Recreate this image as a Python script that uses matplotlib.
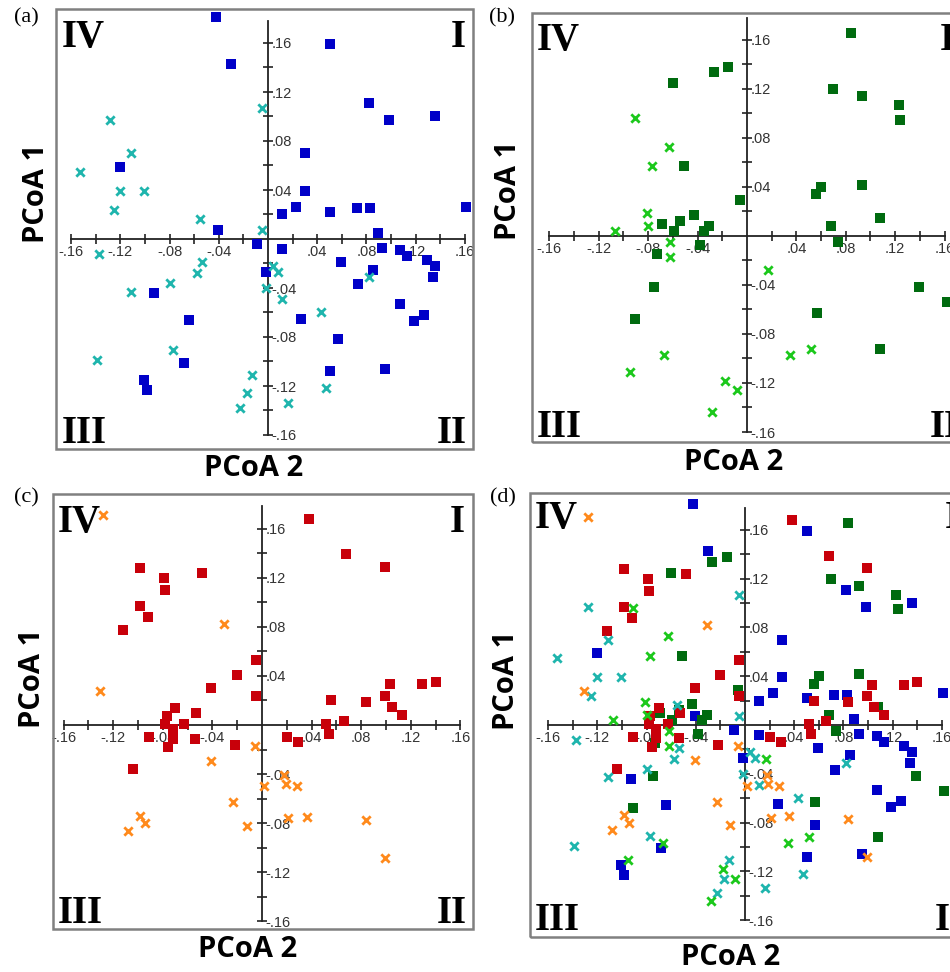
import numpy as np
import matplotlib.pyplot as plt
from matplotlib.patches import Rectangle

W, H = 950, 972

# ---- data (PCoA 2 = x, PCoA 1 = y) ----
# panel (a)
a_sq_x = [-0.042, -0.030, 0.050, 0.082, 0.098, 0.136, 0.030, 0.030, 0.023, 0.011, 0.050, 0.072,
          0.083, 0.161, 0.089, -0.120, -0.041, -0.009, 0.011, 0.093, 0.107, 0.113, 0.059, 0.129,
          0.136, 0.134, 0.085, 0.073, -0.002, -0.093, -0.064, 0.027, 0.107, 0.119, 0.127, 0.057,
          -0.068, 0.050, 0.095, -0.101, -0.098]
a_sq_y = [0.181, 0.143, 0.159, 0.111, 0.097, 0.100, 0.070, 0.039, 0.026, 0.020, 0.022, 0.025,
          0.025, 0.026, 0.005, 0.059, 0.007, -0.004, -0.008, -0.007, -0.009, -0.014, -0.019, -0.017,
          -0.022, -0.031, -0.025, -0.037, -0.027, -0.044, -0.066, -0.065, -0.053, -0.067, -0.062, -0.082,
          -0.101, -0.108, -0.106, -0.115, -0.123]
a_x_x = [-0.128, -0.111, -0.153, -0.120, -0.101, -0.125, -0.055, -0.005, -0.005, -0.137, -0.054,
         -0.058, -0.080, -0.111, 0.004, 0.008, -0.002, 0.011, 0.043, 0.082, -0.077, -0.139, -0.013,
         -0.017, -0.023, 0.016, 0.047]
a_x_y = [0.097, 0.070, 0.055, 0.039, 0.039, 0.024, 0.016, 0.107, 0.007, -0.012, -0.019,
         -0.028, -0.036, -0.043, -0.022, -0.027, -0.040, -0.049, -0.060, -0.031, -0.091, -0.099, -0.111,
         -0.126, -0.138, -0.134, -0.122]

# panel (b)
b_sq_x = [0.084, -0.015, -0.027, -0.060, 0.070, 0.093, 0.123, 0.124, -0.051, 0.093, 0.060, 0.056,
          -0.006, 0.108, -0.043, -0.054, -0.069, -0.031, -0.035, -0.059, 0.068, 0.074, -0.038,
          -0.073, -0.075, -0.091, 0.139, 0.162, 0.057, 0.108]
b_sq_y = [0.166, 0.138, 0.134, 0.125, 0.120, 0.114, 0.107, 0.095, 0.057, 0.042, 0.040, 0.034,
          0.029, 0.015, 0.017, 0.012, 0.010, 0.008, 0.004, 0.004, 0.008, -0.005, -0.007,
          -0.015, -0.042, -0.068, -0.042, -0.054, -0.063, -0.092]
b_x_x = [-0.091, -0.063, -0.077, -0.081, -0.080, -0.107, -0.062, -0.062, 0.017, 0.035, 0.052,
         -0.067, -0.095, -0.018, -0.008, -0.028]
b_x_y = [0.096, 0.073, 0.057, 0.019, 0.008, 0.004, -0.005, -0.017, -0.028, -0.097, -0.092,
         -0.097, -0.111, -0.118, -0.126, -0.144]

# panel (c)
c_sq_x = [0.038, 0.068, 0.099, -0.098, -0.048, -0.079, -0.078, -0.098, -0.092, -0.112, -0.005,
          -0.020, -0.041, -0.005, 0.056, 0.084, 0.099, 0.103, 0.129, 0.140, 0.105, 0.113, -0.053,
          -0.070, -0.077, -0.063, 0.052, 0.066, -0.078, -0.072, -0.072, -0.076, -0.091, -0.054,
          -0.022, -0.104, 0.054, 0.020, 0.029]
c_sq_y = [0.168, 0.139, 0.129, 0.128, 0.124, 0.120, 0.110, 0.097, 0.088, 0.077, 0.053,
          0.041, 0.030, 0.024, 0.020, 0.019, 0.024, 0.033, 0.033, 0.035, 0.015, 0.008, 0.010,
          0.014, 0.007, 0.001, 0.001, 0.003, 0.001, -0.003, -0.011, -0.018, -0.010, -0.011,
          -0.016, -0.036, -0.007, -0.010, -0.014]
c_x_x = [-0.128, -0.031, -0.131, -0.006, -0.041, 0.018, 0.019, 0.028, 0.002, -0.023, -0.098,
         -0.094, -0.108, -0.012, 0.021, 0.036, 0.084, 0.099]
c_x_y = [0.171, 0.082, 0.028, -0.017, -0.029, -0.041, -0.048, -0.050, -0.050, -0.063, -0.074,
         -0.080, -0.086, -0.082, -0.076, -0.075, -0.077, -0.108]

tick_vals = [-0.16, -0.14, -0.12, -0.10, -0.08, -0.06, -0.04, -0.02,
             0.02, 0.04, 0.06, 0.08, 0.10, 0.12, 0.14, 0.16]
panel_tags = ['(a)', '(b)', '(c)', '(d)']
quadrants = ['IV', 'I', 'III', 'II']

BLUE, CYAN = '#0000c8', '#1fb5ad'
DGREEN, LIME = '#006b0f', '#1cc81c'
RED, ORANGE = '#c8000a', '#ff8a1c'

groups = {
    'a': [(a_sq_x, a_sq_y, 's', BLUE), (a_x_x, a_x_y, 'x', CYAN)],
    'b': [(b_sq_x, b_sq_y, 's', DGREEN), (b_x_x, b_x_y, 'x', LIME)],
    'c': [(c_sq_x, c_sq_y, 's', RED), (c_x_x, c_x_y, 'x', ORANGE)],
}
groups['d'] = groups['a'] + groups['b'] + groups['c']

# layout in pixels: frame box (l, t, r, b), origin of the axes cross, px per unit
layout = [
    dict(key='a', box=(56, 9, 473, 449), org=(268, 239), sc=(1231, 1225),
         tag=(26, 18), yl=(36, 193), xl=(254, 468),
         q=[(62, 47, 'left'), (466, 47, 'right'), (62, 443, 'left'), (467, 443, 'right')]),
    dict(key='b', box=(532, 13, 958, 442), org=(747, 236), sc=(1235, 1225),
         tag=(502, 18), yl=(509, 190), xl=(734, 463),
         q=[(537, 50, 'left'), (940, 50, 'left'), (537, 437, 'left'), (930, 437, 'left')]),
    dict(key='c', box=(53, 494, 473, 929), org=(262, 725), sc=(1240, 1228),
         tag=(26, 498), yl=(33, 678), xl=(248, 949),
         q=[(58, 532, 'left'), (465, 532, 'right'), (58, 923, 'left'), (467, 923, 'right')]),
    dict(key='d', box=(530, 493, 958, 937), org=(745, 725), sc=(1230, 1219),
         tag=(503, 498), yl=(507, 680), xl=(731, 957),
         q=[(535, 528, 'left'), (945, 528, 'left'), (535, 930, 'left'), (935, 930, 'left')]),
]


def fmt(v):
    s = f'{abs(v):.2f}'[1:]
    return '-' + s if v < 0 else s


def px(x, y):
    return x / W, 1 - y / H


fig = plt.figure(figsize=(W / 100, H / 100), dpi=100)
fig.patch.set_facecolor('white')

for i, p in enumerate(layout):
    l, t, r, b = p['box']
    ox, oy = p['org']
    sx, sy = p['sc']
    ax = fig.add_axes([l / W, 1 - b / H, (r - l) / W, (b - t) / H])
    ax.set_xlim((l - ox) / sx, (r - ox) / sx)
    ax.set_ylim((oy - b) / sy, (oy - t) / sy)

    for xs, ys, m, c in groups[p['key']]:
        if m == 's':
            ax.scatter(xs, ys, marker='s', s=58, color=c, linewidths=0, zorder=3)
        else:
            ax.scatter(xs, ys, marker='x', s=36, color=c, linewidths=2.0, zorder=4)

    ax.spines['left'].set_visible(False)
    ax.spines['top'].set_visible(False)
    ax.spines['bottom'].set_position(('data', 0))
    ax.spines['right'].set_position(('data', 0))
    ax.spines['bottom'].set_bounds(-0.16, 0.16)
    ax.spines['right'].set_bounds(-0.16, 0.178)
    for s in ('bottom', 'right'):
        ax.spines[s].set_linewidth(1.3)
        ax.spines[s].set_color('#222222')
    ax.yaxis.tick_right()
    ax.xaxis.tick_bottom()
    labels = [fmt(v) if round(v * 100) % 4 == 0 else '' for v in tick_vals]
    ax.set_xticks(tick_vals)
    ax.set_xticklabels(labels)
    ax.set_yticks(tick_vals)
    ax.set_yticklabels(labels)
    ax.tick_params(direction='inout', length=7, width=1.2, color='#222222',
                   labelsize=10.5, labelcolor='#333333', pad=1)
    ax.tick_params(axis='y', pad=-1)
    for lab in ax.get_xticklabels() + ax.get_yticklabels():
        lab.set_fontfamily('Liberation Sans')

    ax.add_patch(Rectangle((0, 0), 1, 1, transform=ax.transAxes, fill=False,
                           ec='#808080', lw=1.8, clip_on=False, zorder=5))

    fig.text(*px(*p['tag']), panel_tags[i], ha='center', va='center',
             fontsize=16, family='Liberation Serif')
    fig.text(*px(*p['yl']), 'PCoA 1', ha='center', va='center', rotation=90,
             fontsize=21, weight='bold', family='Open Sans')
    fig.text(*px(*p['xl']), 'PCoA 2', ha='center', va='center',
             fontsize=21, weight='bold', family='Open Sans')
    for (qx, qy, ha), q in zip(p['q'], quadrants):
        fig.text(*px(qx, qy), q, ha=ha, va='baseline', fontsize=28,
                 weight='bold', family='Liberation Serif')

fig.savefig('out.png', dpi=100, facecolor='white')
